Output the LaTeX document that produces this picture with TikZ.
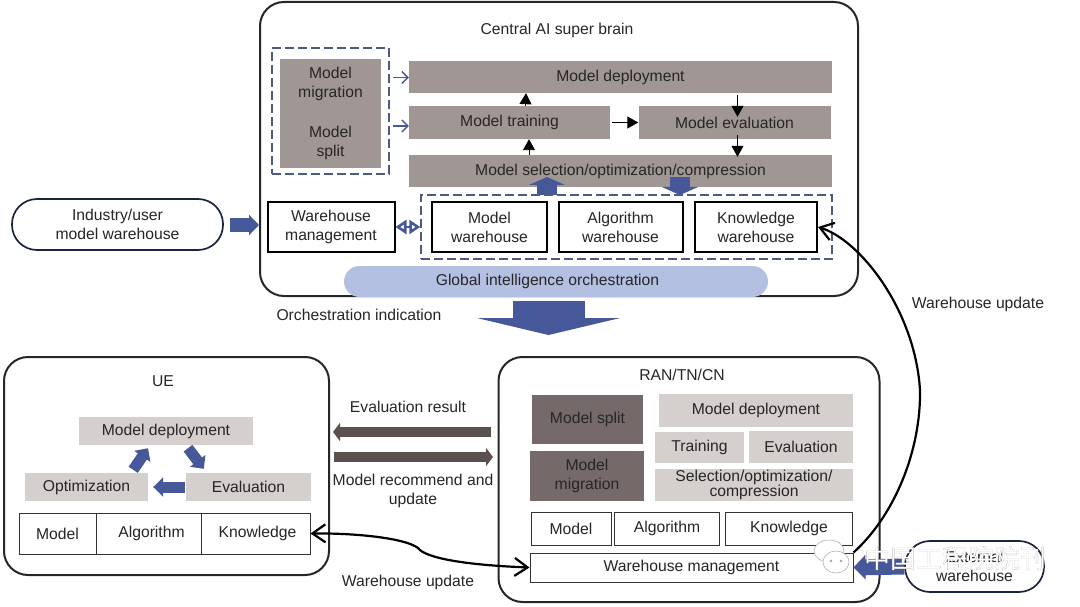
\documentclass[tikz,border=0pt]{standalone}
\usepackage{fontspec}
\setmainfont{Liberation Sans}
\newfontfamily\cjkfont[FakeBold=0.2]{Noto Sans CJK SC}
\usetikzlibrary{arrows.meta}
\definecolor{greyA}{HTML}{A09795}
\definecolor{greyB}{HTML}{D5D0CE}
\definecolor{greyC}{HTML}{76696A}
\definecolor{blueA}{HTML}{46589A}
\definecolor{blueB}{HTML}{B4C0E2}
\definecolor{dashC}{HTML}{4F5A80}
\definecolor{brownA}{HTML}{5A504E}
\tikzset{
  txt/.style = {font=\fontsize{15.7}{19}\selectfont, text=black!85, align=center, inner sep=0pt, execute at begin node=\vspace*{2.5pt}},
  plane/.style = {draw=black!85, line width=2pt, rounded corners=24pt},
  dkbox/.style = {txt, fill=greyA},
  ltbox/.style = {txt, fill=greyB},
  midbox/.style = {txt, fill=greyC},
  whbox/.style = {txt, draw=black, line width=2pt, fill=white},
  thinbox/.style = {txt, draw=black!80, line width=1pt, fill=white},
  pill/.style = {txt, draw=black!60!blueA, line width=1.7pt, rounded corners=25pt, fill=white},
  dashbox/.style = {draw=dashC, line width=1.5pt, dash pattern=on 9pt off 4pt},
  blk/.style = {-{Triangle[length=11pt,width=12pt]}, line width=.9pt, black},
  thinblue/.style = {-{Straight Barb[length=6pt,width=12pt]}, line width=1.3pt, blueA},
  fatblue/.style = {-{Triangle[length=10pt,width=19pt]}, line width=11pt, blueA},
  fatbrown/.style = {-{Triangle[length=7pt,width=18pt]}, line width=10pt, brownA},
  curvy/.style = {line width=2.2pt, black}
}
\begin{document}
\begin{tikzpicture}[x=1pt,y=1pt]
\useasboundingbox (0,0) rectangle (1080,-607);

% central brain
\node[plane, minimum width=598, minimum height=294] (brain) at (559,-149) {};
\node[txt] (brainlbl) at (557,-30) {Central AI super brain};
\node[dkbox, minimum width=101, minimum height=109] (move) at (330.5,-113.5) {Model\\migration\\[21pt]Model\\split};
\node[dashbox, minimum width=117, minimum height=126] (movedash) at (330.5,-111) {};
\node[dkbox, minimum width=423, minimum height=32] (deploy) at (620.5,-77) {Model deployment};
\node[dkbox, minimum width=201, minimum height=33] (train) at (509.5,-122.5) {Model training};
\node[dkbox, minimum width=192, minimum height=33] (eval) at (734.5,-122.5) {Model evaluation};
\node[dkbox, minimum width=423, minimum height=32] (select) at (620.5,-171) {Model selection/optimization/compression};
\node[whbox, minimum width=127, minimum height=50] (wmgmt) at (331,-227) {Warehouse\\management};
\node[whbox, minimum width=115, minimum height=50] (mware) at (489.5,-227) {Model\\warehouse};
\node[whbox, minimum width=124, minimum height=50] (aware) at (620.5,-227) {Algorithm\\warehouse};
\node[whbox, minimum width=122, minimum height=50] (kware) at (756,-227) {Knowledge\\warehouse};
\node[txt, fill=blueB, rounded corners=15.5pt, minimum width=424, minimum height=31] (orch) at (556,-281.5) {\hspace*{-17pt}Global intelligence orchestration};
\node[txt] (orchlbl) at (359,-315) {Orchestration indication};

% model loop
\coordinate (mv1) at (393,-77.5);
\coordinate (mv2) at (393,-126);
\draw[thinblue] (mv1) -- (mv1 -| deploy.west);
\draw[thinblue] (mv2) -- (mv2 -| train.west);
\draw[blk] ([xshift=16pt]train.north) -- ([xshift=-94.5pt]deploy.south);
\draw[blk] ([xshift=-91.5pt]select.north) -- ([xshift=19.5pt]train.south);
\draw[blk] ([xshift=2pt]train.east) -- (eval.west);
\draw[blk] ([xshift=117pt,yshift=-2pt]deploy.south) -- ([xshift=3pt,yshift=-11pt]eval.north);
\draw[blk] ([xshift=3pt,yshift=4pt]eval.south) -- ([xshift=117pt,yshift=-2pt]select.north);

% fat arrows on the warehouse row
\coordinate (upfrom) at (547,-195);
\coordinate (upto) at (547,-177);
\coordinate (downfrom) at (680,-177);
\coordinate (downto) at (680,-195);
\draw[-{Triangle[length=8pt,width=36pt]}, line width=20pt, blueA] (upfrom) -- (upto);
\draw[-{Triangle[length=8pt,width=36pt]}, line width=20pt, blueA] (downfrom) -- (downto);
\node[dashbox, minimum width=411, minimum height=64] (store) at (626.5,-227) {};
\draw[{Triangle[open,length=11pt,width=14pt]}-{Triangle[open,length=11pt,width=14pt]}, line width=2.6pt, blueA] (wmgmt.east) -- (store.west);

% input pill on the left
\node[pill, minimum width=211, minimum height=51] (industry) at (117.5,-224.5) {Industry/user\\model warehouse};
\coordinate (inddot) at (230,-225);
\draw[-{Triangle[length=10pt,width=20pt]}, line width=14pt, blueA] (inddot) -- (brain.west |- inddot);

\coordinate (orchfrom) at (548.5,-301);
\coordinate (orchto) at (548.5,-335);
\draw[-{Triangle[length=17pt,width=143pt]}, line width=72pt, blueA] (orchfrom) -- (orchto);

% UE
\node[plane, minimum width=325, minimum height=218] (ue) at (166.5,-466) {};
\node[txt] (uelbl) at (163,-381) {UE};
\node[ltbox, minimum width=174, minimum height=28] (udeploy) at (166,-431) {Model deployment};
\node[ltbox, minimum width=123, minimum height=28] (uopt) at (86.5,-487) {Optimization};
\node[ltbox, minimum width=125, minimum height=28] (ueval) at (248.5,-487) {Evaluation};
\node[thinbox, minimum width=77, minimum height=41] (umodel) at (57.5,-533.5) {Model};
\node[thinbox, minimum width=105, minimum height=41] (ualg) at (148.5,-533.5) {\hspace*{6pt}Algorithm};
\node[thinbox, minimum width=109, minimum height=41] (uknow) at (255.5,-533.5) {\hspace*{4pt}Knowledge};
\draw[fatblue] ([shift={(-15pt,3pt)}]uopt.north east) -- ([shift={(-18pt,-3pt)}]udeploy.south);
\draw[fatblue] ([shift={(22pt,-3pt)}]udeploy.south) -- ([shift={(18pt,4pt)}]ueval.north west);
\draw[fatblue] ([xshift=-1pt]ueval.west) -- ([xshift=5pt]uopt.east);

% RAN/TN/CN
\node[plane, minimum width=381, minimum height=245] (ran) at (689,-479.5) {};
\node[txt] (ranlbl) at (682,-375) {RAN/TN/CN};
\node[midbox, minimum width=111, minimum height=49] (rsplit) at (587.5,-419.5) {Model split};
\node[midbox, minimum width=114, minimum height=50] (rmig) at (587,-476) {Model\\migration};
\node[ltbox, minimum width=194, minimum height=33] (rdeploy) at (756,-410.5) {Model deployment};
\node[ltbox, minimum width=89, minimum height=31] (rtrain) at (699.5,-447.5) {Training};
\node[ltbox, minimum width=104, minimum height=32] (reval) at (801,-447) {Evaluation};
\node[ltbox, minimum width=198, minimum height=32, font=\fontsize{15.7}{15.5}\selectfont] (rsel) at (754,-485) {Selection/optimization/\\compression};
\node[thinbox, minimum width=80, minimum height=33] (rmodel) at (571,-528.5) {Model};
\node[thinbox, minimum width=105, minimum height=33] (ralg) at (667,-528.5) {Algorithm};
\node[thinbox, minimum width=127, minimum height=33] (rknow) at (789,-528.5) {Knowledge};
\node[thinbox, minimum width=323, minimum height=29] (rmgmt) at (691.5,-567.5) {Warehouse management};

% between UE and RAN
\node[txt] (evallbl) at (408,-407) {Evaluation result};
\node[txt] (recolbl) at (413,-490.5) {Model recommend and\\update};
\node[txt] (ueupd) at (408,-582) {Warehouse update};
\node[txt] (kbupd) at (978,-304) {Warehouse update};
\coordinate (evfrom) at (491,-432);
\coordinate (evto) at (333,-432);
\coordinate (recofrom) at (334,-457);
\coordinate (recoto) at (493,-457);
\draw[fatbrown] (evfrom) -- (evto);
\draw[fatbrown] (recofrom) -- (recoto);

\draw[curvy, {Straight Barb[length=13pt,width=18pt]}-{Straight Barb[length=13pt,width=18pt]}] (uknow.east) .. controls (355,-533) and (405,-538) .. (418,-548) .. controls (425,-558) and (465,-565) .. (rmgmt.west);
\draw[curvy, {Straight Barb[length=13pt,width=18pt]}-] (kware.east) .. controls (860,-240) and (915,-310) .. (920,-390) .. controls (921,-450) and (895,-515) .. (rmgmt.north east);

% external warehouse
\node[pill, minimum width=139, minimum height=51] (extern) at (974.5,-566.5) {External\\warehouse};
\draw[-{Triangle[length=12pt,width=24pt]}, line width=16pt, blueA] (extern.west) -- (rmgmt.east);

% journal mark on top
\fill[white, draw=black!30, line width=.6pt] (829,-551) ellipse (15 and 11);
\fill[white, draw=black!30, line width=.6pt] (836,-562) ellipse (13 and 11);
\fill[black!35] (831,-561) circle (1.3) (841,-561) circle (1.3);
\node[font=\cjkfont\fontsize{26}{26}\selectfont, text=white, inner sep=0pt] (mark) at (955,-558) {\special{pdf:code 0.6 G}中国工程院院刊};
\end{tikzpicture}
\end{document}
